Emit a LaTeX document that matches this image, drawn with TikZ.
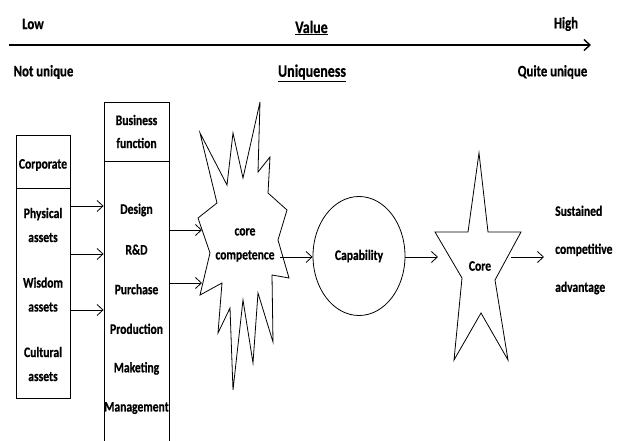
\documentclass[tikz,border=0pt]{standalone}
\usepackage{fontspec}
\setmainfont{Carlito}[FakeStretch=0.8, BoldFeatures={FakeBold=0.6}]
\usetikzlibrary{arrows.meta, positioning, shapes.geometric}

\tikzset{
  lbl/.style={font=\bfseries\fontsize{14.5}{24}\selectfont, inner sep=1pt, align=center},
  toplbl/.style={lbl, font=\bfseries\fontsize{16}{18}\selectfont},
  axislbl/.style={lbl, font=\bfseries\fontsize{17.5}{20}\selectfont},
  link/.style={-{Straight Barb[length=6pt,width=11pt]}, line width=0.8pt},
  outline/.style={draw, line width=0.8pt}
}

\begin{document}
\begin{tikzpicture}[x=1pt,y=-1pt]
\useasboundingbox (0,0) rectangle (618,441);
% value / uniqueness scale
\coordinate (lo) at (9,45);
\coordinate (hi) at (591,45);
\draw[link, line width=1.4pt] (lo) -- (hi);
\node[toplbl] (low) at (33,24) {Low};
\node[axislbl] (value) at (311.5,28) {\underline{Value}};
\node[toplbl] (high) at (566,24) {High};
\node[toplbl] (notuniq) at (43.5,72) {Not unique};
\node[axislbl] (uniq) at (312,73) {\underline{Uniqueness}};
\node[toplbl] (quiteuniq) at (552.5,72) {Quite unique};

% corporate box
\node[outline, minimum width=54.5pt, minimum height=263pt, inner sep=0] (corp) at (43.25,266.5) {};
\draw[line width=0.8pt] (corp.west |- 0,188) -- (corp.east |- 0,188);
\node[lbl] (corphead) at (43,165) {Corporate};
\node[lbl] (phys) at (43,225) {Physical\\assets};
\node[lbl] (wisd) at (43,294.5) {Wisdom\\assets};
\node[lbl] (cult) at (43,364) {Cultural\\assets};

% business function box
\node[outline, minimum width=65pt, minimum height=343pt, inner sep=0] (bus) at (136.5,273.5) {};
\draw[line width=0.8pt] (bus.west |- 0,161) -- (bus.east |- 0,161);
\node[lbl, font=\bfseries\fontsize{14.5}{23}\selectfont] (bushead) at (136.5,131.5) {Business\\function};
\foreach \t [count=\i] in {Design,R\&D,Purchase,Production,Maketing,Management}
  \node[lbl] (fn\i) at (136.5,{210+39.6*(\i-1)}) {\t};

\foreach \y in {206,254,310}
  \draw[link] (corp.east |- 0,\y) -- (bus.west |- 0,\y);

% core competence burst
\draw[outline] (260,102) -- (258,172) -- (270,157) -- (268,193) -- (287,210) -- (278,240)
  -- (289,278) -- (272,275) -- (273,342) -- (258,293) -- (253,363) -- (243,300)
  -- (233,390) -- (230,308) -- (218,333) -- (222,283) -- (200,295) -- (210,253)
  -- (198,218) -- (217,203) -- (200,133) -- (227,185) -- (233,133) -- (243,178) -- cycle;
\node[lbl] (compet) at (245,245) {core\\competence};
\coordinate (burstin1) at (202,230);
\coordinate (burstin2) at (202,283);
\coordinate (burstout) at (280,257);
\draw[link] (bus.east |- burstin1) -- (burstin1);
\draw[link] (bus.east |- burstin2) -- (burstin2);

% capability
\node[outline, ellipse, minimum width=92pt, minimum height=119pt, inner sep=0] (cap) at (359,256) {};
\node[lbl] (capl) at (cap.center) {Capability};
\draw[link] (burstout) -- (burstout -| cap.west);

% core star
\draw[outline] (479,153) -- (468,232) -- (435,232) -- (462,278) -- (454,360) -- (481,313)
  -- (508,360) -- (495,280) -- (521,232) -- (488,232) -- cycle;
\node[lbl] (core) at (480,266) {Core};
\coordinate (starin) at (438,257);
\coordinate (starout) at (511,257);
\draw[link] (cap.east |- starin) -- (starin);

% outcome
\node[lbl, font=\bfseries\fontsize{14.5}{38}\selectfont, align=left, anchor=west] (adv) at (554,250) {Sustained\\competitive\\advantage};
\draw[link, shorten >=10pt] (starout) -- (adv.west |- starout);
\end{tikzpicture}
\end{document}
